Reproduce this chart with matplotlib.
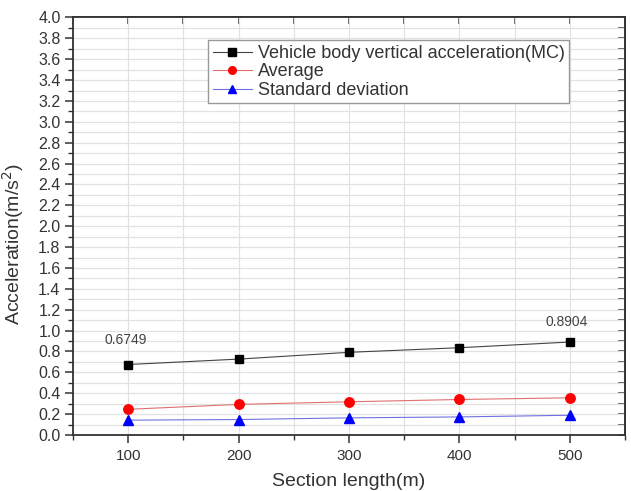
import matplotlib
matplotlib.use("Agg")
import matplotlib.pyplot as plt
from matplotlib.ticker import MultipleLocator, NullFormatter

plt.rcParams['font.family'] = ['Liberation Sans', 'DejaVu Sans']

section_length = [100, 200, 300, 400, 500]
vehicle_mc = [0.6749, 0.727, 0.792, 0.836, 0.8904]
average = [0.246, 0.293, 0.318, 0.340, 0.356]
std_dev = [0.142, 0.148, 0.164, 0.173, 0.189]
labels = ["Vehicle body vertical acceleration(MC)", "Average", "Standard deviation"]
annot_pos = [(98, 0.91), (497, 1.085)]

fig = plt.figure(figsize=(6.31, 4.91), dpi=100)
ax = fig.add_axes([0.1157, 0.1141, 0.8748, 0.8503])

ax.plot(section_length, vehicle_mc, color='#444444', lw=0.8, marker='s', ms=5.8,
        mfc='black', mec='black', label=labels[0])
ax.plot(section_length, average, color='#e07070', lw=0.8, marker='o', ms=6.8,
        mfc='red', mec='red', label=labels[1])
ax.plot(section_length, std_dev, color='#7070e0', lw=0.8, marker='^', ms=7.2,
        mfc='blue', mec='blue', label=labels[2])

ax.annotate(f"{vehicle_mc[0]:.4f}", (section_length[0], vehicle_mc[0]),
            xytext=annot_pos[0], textcoords='data', ha='center', va='center',
            fontsize=10, color='#444444')
ax.annotate(f"{vehicle_mc[-1]:.4f}", (section_length[-1], vehicle_mc[-1]),
            xytext=annot_pos[1], textcoords='data', ha='center', va='center',
            fontsize=10, color='#444444')

ax.set_xlim(50, 550)
ax.set_ylim(0, 4.0)
ax.xaxis.set_major_locator(MultipleLocator(100))
ax.xaxis.set_minor_locator(MultipleLocator(50))
ax.yaxis.set_major_locator(MultipleLocator(0.2))
ax.yaxis.set_minor_locator(MultipleLocator(0.1))

ax.grid(True, which='both', color='#e2e2e2', lw=0.9)
ax.set_axisbelow(True)

ax.tick_params(which='major', direction='out', length=6, width=1.1,
               colors='#333333', pad=4)
ax.tick_params(which='minor', direction='out', length=3.5, width=1.0, colors='#333333')
ax.tick_params(axis='x', which='major', labelsize=11)
ax.tick_params(axis='y', which='major', labelsize=11.5, pad=3)

top = ax.secondary_xaxis('top')
top.xaxis.set_major_locator(MultipleLocator(50))
top.xaxis.set_major_formatter(NullFormatter())
top.tick_params(direction='in', length=5, width=1.1, colors='#333333')
right = ax.secondary_yaxis('right')
right.yaxis.set_major_locator(MultipleLocator(0.1))
right.yaxis.set_major_formatter(NullFormatter())
right.tick_params(direction='in', length=5, width=1.1, colors='#333333')

for a in (ax, top, right):
    for s in a.spines.values():
        s.set_linewidth(1.3)
        s.set_color('#333333')

ax.set_xlabel("Section length(m)", fontsize=14, color='#333333', labelpad=7)
ax.set_ylabel("Acceleration(m/s$^2$)", fontsize=14, color='#333333', labelpad=4)
ax.yaxis.set_label_coords(-0.085, 0.457)

leg = ax.legend(loc='upper left', bbox_to_anchor=(0.2446, 0.945), fontsize=13,
                frameon=True, fancybox=False, edgecolor='#999999', handlelength=2.2,
                borderpad=0.25, labelspacing=0.08, handletextpad=0.3, borderaxespad=0,
                framealpha=1)
leg.get_frame().set_linewidth(1.0)
for t in leg.get_texts():
    t.set_color('#333333')
for h in leg.legend_handles:
    h.set_markersize(5.5)

fig.savefig("out.png", dpi=100)
